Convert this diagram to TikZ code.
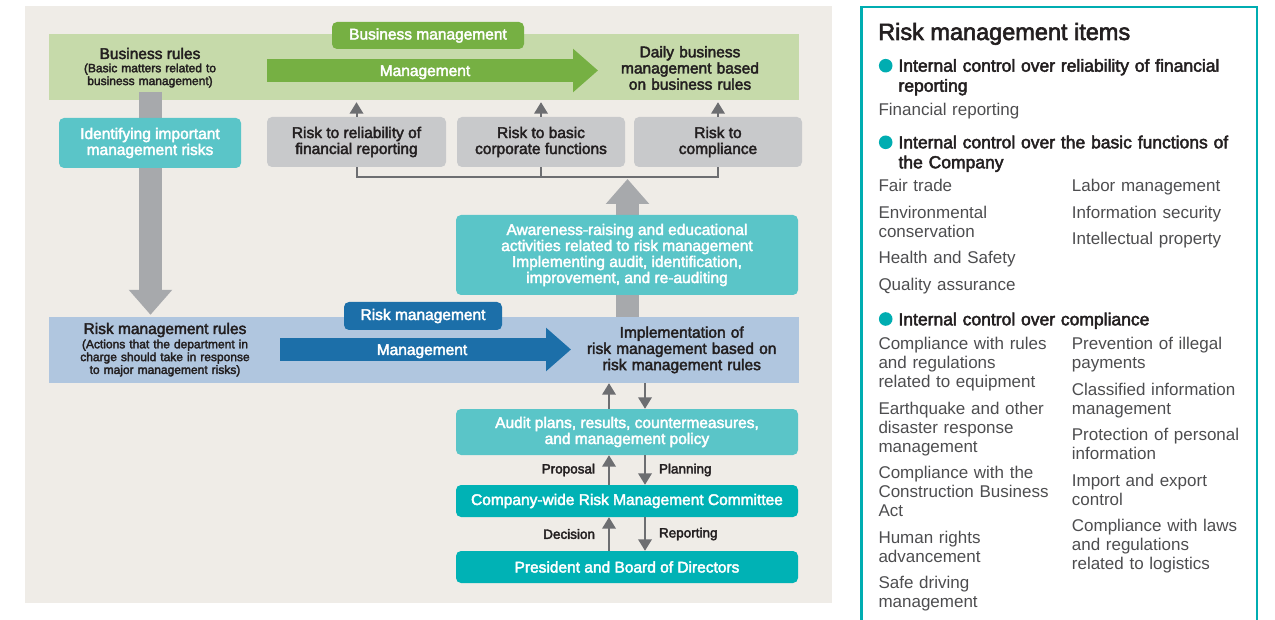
\documentclass[tikz,border=0pt]{standalone}
\usepackage{fontspec}
\setmainfont{Liberation Sans}
\newfontfamily\medfont[FakeBold=2.6]{Liberation Sans}
\usetikzlibrary{positioning,arrows.meta}
\definecolor{bgbeige}{HTML}{EFECE7}
\definecolor{bandgreen}{HTML}{C6DAAA}
\definecolor{leafgreen}{HTML}{76B043}
\definecolor{bandblue}{HTML}{B0C6DF}
\definecolor{deepblue}{HTML}{1C6FA9}
\definecolor{riskgray}{HTML}{C8C9CB}
\definecolor{shaftgray}{HTML}{A7A9AC}
\definecolor{linegray}{HTML}{6D6E71}
\definecolor{teallt}{HTML}{5AC5C8}
\definecolor{tealdk}{HTML}{00B2B5}
\definecolor{frameteal}{HTML}{00ADB1}
\definecolor{inkdark}{HTML}{231F20}
\definecolor{itemgray}{HTML}{4D4D4F}
\tikzstyle{bandbox}=[minimum width=750pt, minimum height=66pt, inner sep=0pt]
\tikzstyle{tabbox}=[rounded corners=5pt, minimum height=27pt, text=white, font=\medfont\fontsize{15.5}{16.5}\selectfont]
\tikzstyle{riskbox}=[fill=riskgray, rounded corners=5pt, minimum height=50pt, align=center, text=inkdark, font=\medfont\fontsize{15.5}{16}\selectfont]
\tikzstyle{tealbox}=[fill=teallt, rounded corners=5pt, minimum width=342pt, align=center, text=white, font=\medfont\fontsize{15.5}{16}\selectfont]
\tikzstyle{deepbox}=[tealbox, fill=tealdk, minimum height=32pt]
\tikzstyle{bandtitle}=[anchor=base, inner sep=0pt, align=center, text=inkdark, font=\medfont\fontsize{15.5}{16.2}\selectfont]
\tikzstyle{bandnote}=[inner sep=0pt, align=center, text=inkdark, font=\medfont\fontsize{12}{12.8}\selectfont]
\tikzstyle{arrowtext}=[anchor=base, inner sep=0pt, text=white, font=\medfont\fontsize{15.5}{16}\selectfont]
\tikzstyle{bigarrow}=[line width=23pt, -{Triangle[width=42pt,length=25pt]}]
\tikzstyle{smallarrow}=[linegray, line width=2pt, -{Triangle[width=13.5pt,length=11.5pt]}]
\tikzstyle{bracket}=[linegray, line width=2pt]
\tikzstyle{armlabel}=[inner sep=0pt, text=inkdark, font=\medfont\fontsize{13.5}{14}\selectfont]
\tikzstyle{bulletdot}=[circle, fill=frameteal, minimum size=13.6pt, inner sep=0pt]
\tikzstyle{paneltitle}=[anchor=base west, inner sep=0pt, text=inkdark, font=\medfont\fontsize{23.5}{26}\selectfont]
\tikzstyle{panelhead}=[anchor=base west, inner sep=0pt, text width=355pt, align=left, text=inkdark, font=\medfont\fontsize{17.5}{20}\selectfont]
\tikzstyle{panelitem}=[anchor=base west, inner sep=0pt, text width=188pt, align=left, text=itemgray, font=\fontsize{17}{19}\selectfont]

\begin{document}
\begin{tikzpicture}[x=1pt, y=-1pt]
	\useasboundingbox (0,0) rectangle (1275,620);
	\fill[bgbeige] (25,6) rectangle (832,602.7);
	% bands
	\node[bandbox, fill=bandgreen] (bizband) at (424,67) {};
	\node[bandbox, fill=bandblue] (rmband) at (424,350) {};
	\node[tabbox, fill=leafgreen, minimum width=192pt] (biztab) at (428,35.5) {Business management};
	\node[tabbox, fill=deepblue, minimum width=158pt, minimum height=28pt] (rmtab) at (423,316) {Risk management};
	% flow arrows
	\coordinate (gstart) at (267,70.5);
	\coordinate (gtip) at (598,70.5);
	\coordinate (bstart) at (280,349.5);
	\coordinate (btip) at (571,349.5);
	\coordinate (downtop) at (150.5,92);
	\coordinate (uptip) at (627.5,179);
	\coordinate (brk) at (0,177);
	\draw[bigarrow, leafgreen] (gstart) -- (gtip);
	\draw[bigarrow, deepblue] (bstart) -- (btip);
	\draw[bigarrow, shaftgray, shorten >=2pt] (downtop) -- (downtop |- rmband.north);
	\draw[bigarrow, shaftgray] (uptip |- rmband.north) -- (uptip);
	\node[arrowtext] (bizmgmtlbl) at (425,76) {Management};
	\node[arrowtext] (rmmgmtlbl) at (422,355) {Management};
	% band texts
	\node[bandtitle] (bizrules) at (150,59) {Business rules};
	\node[bandnote, text width=170pt, below=4pt of bizrules] (bizrulesnote) {(Basic matters related to\\business management)};
	\node[bandtitle, text width=190pt] (daily) at (690,57.3) {Daily business\\management based\\on business rules};
	\node[bandtitle] (rmrules) at (165,334) {Risk management rules};
	\node[bandnote, text width=190pt, below=2pt of rmrules] (rmrulesnote) {(Actions that the department in\\charge should take in response\\to major management risks)};
	\node[bandtitle, text width=200pt] (impl) at (681.7,337.7) {Implementation of\\risk management based on\\risk management rules};
	% boxes
	\node[tealbox, minimum width=182pt, minimum height=50pt] (identify) at (150,143) {Identifying important\\management risks};
	\node[riskbox, minimum width=179pt] (risk1) at (356.5,142) {Risk to reliability of\\financial reporting};
	\node[riskbox, minimum width=168pt] (risk2) at (541,142) {Risk to basic\\corporate functions};
	\node[riskbox, minimum width=168pt] (risk3) at (718,142) {Risk to\\compliance};
	\node[tealbox, minimum height=80pt] (aware) at (627,255) {Awareness-raising and educational\\activities related to risk management\\Implementing audit, identification,\\improvement, and re-auditing};
	\node[tealbox, minimum height=46pt] (audit) at (627,432) {Audit plans, results, countermeasures,\\and management policy};
	\node[deepbox] (committee) at (627,501) {Company-wide Risk Management Committee};
	\node[deepbox] (president) at (627,567) {President and Board of Directors};
	% connectors
	\path[smallarrow] (risk1.north) edge[shorten >=2pt] (risk1.north |- bizband.south);
	\path[smallarrow] (risk2.north) edge[shorten >=2pt] (risk2.north |- bizband.south);
	\path[smallarrow] (risk3.north) edge[shorten >=2pt] (risk3.north |- bizband.south);
	\draw[bracket] (risk1.south) -- (risk1.south |- brk) -- (risk3.south |- brk) -- (risk3.south);
	\draw[bracket] (risk2.south) -- (risk2.south |- brk);
	\path[smallarrow] ([xshift=-18pt]audit.north) edge ([xshift=-18pt]audit.north |- rmband.south);
	\path[smallarrow] ([xshift=18pt]audit.north |- rmband.south) edge ([xshift=18pt]audit.north);
	\path[smallarrow] ([xshift=-18pt]committee.north) edge node[armlabel, left=13pt] {Proposal} ([xshift=-18pt]audit.south);
	\path[smallarrow] ([xshift=18pt]audit.south) edge node[armlabel, right=13pt] {Planning} ([xshift=18pt]committee.north);
	\path[smallarrow] ([xshift=-18pt]president.north) edge node[armlabel, left=13pt] {Decision} ([xshift=-18pt]committee.south);
	\path[smallarrow] ([xshift=18pt]committee.south) edge node[armlabel, right=13pt] {Reporting} ([xshift=18pt]president.north);
	% risk management items
	\draw[frameteal, line width=2.3pt] (861.5,621) -- (861.5,7) -- (1256.7,7) -- (1256.7,621);
	\node[paneltitle] (itemstitle) at (878,40) {Risk management items};
	\node[bulletdot] (dot1) at (885.7,65.7) {};
	\node[panelhead] (head1) at (898.3,71.7) {Internal control over reliability of financial\\reporting};
	\node[panelitem] (fin) at (878.3,115.7) {Financial reporting};
	\node[bulletdot] (dot2) at (885.7,142.3) {};
	\node[panelhead] (head2) at (898.3,148.3) {Internal control over the basic functions of\\the Company};
	\node[panelitem] (basicleft) at (878.3,191.7) {Fair trade\\[7.5pt]Environmental\\conservation\\[7.5pt]Health and Safety\\[7.5pt]Quality assurance};
	\node[panelitem] (basicright) at (1071.7,191.7) {Labor management\\[7.5pt]Information security\\[7.5pt]Intellectual property};
	\node[bulletdot] (dot3) at (885.7,319) {};
	\node[panelhead] (head3) at (898.3,325.3) {Internal control over compliance};
	\node[panelitem] (compleft) at (878.3,350) {Compliance with rules\\and regulations\\related to equipment\\[7.5pt]Earthquake and other\\disaster response\\management\\[7.5pt]Compliance with the\\Construction Business\\Act\\[7.5pt]Human rights\\advancement\\[7.5pt]Safe driving\\management};
	\node[panelitem] (compright) at (1071.7,350) {Prevention of illegal\\payments\\[7.5pt]Classified information\\management\\[7.5pt]Protection of personal\\information\\[7.5pt]Import and export\\control\\[7.5pt]Compliance with laws\\and regulations\\related to logistics};
\end{tikzpicture}
\end{document}
